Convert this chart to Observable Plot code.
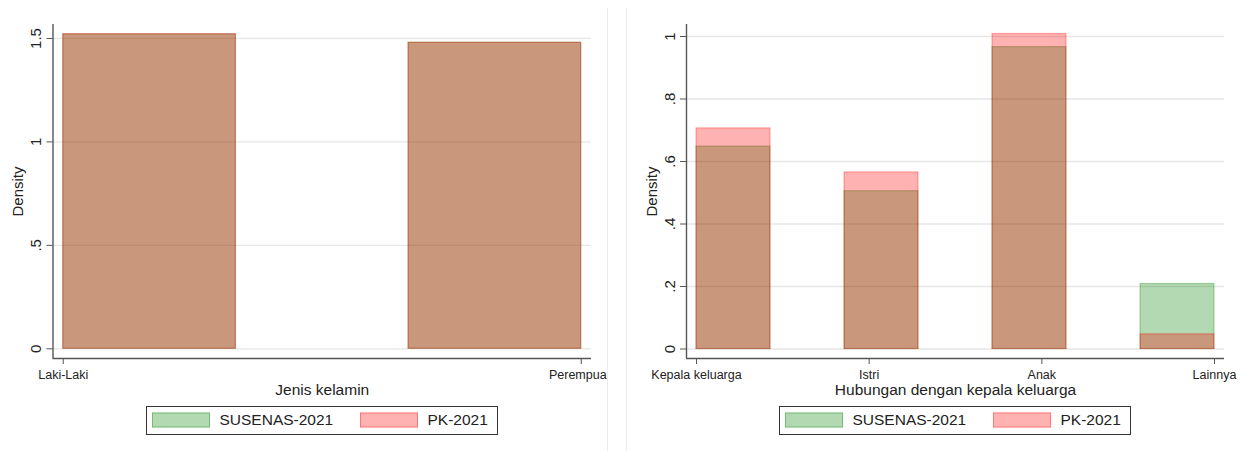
<!DOCTYPE html>
<html>
<head>
<meta charset="utf-8">
<script src="https://cdn.jsdelivr.net/npm/d3@7"></script>
<script src="https://cdn.jsdelivr.net/npm/@observablehq/plot@0.6"></script>
<style>
  html, body { margin: 0; padding: 0; background: #fff; }
  #root { position: relative; width: 1245px; height: 451px; overflow: hidden; background: #fff; font-family: "Liberation Sans", Arial, sans-serif; }
  .panel { position: absolute; top: 0; height: 451px; }
  .panel svg { display: block; overflow: hidden; }
  .legend { position: absolute; top: 406px; height: 28.5px; width: 352px; box-sizing: border-box; border: 1.5px solid #333; background: #fff; }
  .legend .sw { position: absolute; top: 50%; transform: translateY(-50%); width: 58px; height: 15px; box-sizing: border-box; }
  .legend .lb { position: absolute; top: 50%; transform: translateY(-50%); font-size: 15.5px; color: #222; white-space: nowrap; line-height: 1; }
  .sep { position: absolute; top: 8px; width: 1px; height: 443px; background: #ececec; }
</style>
</head>
<body>
<div id="root"></div>
<script>
// ---------- data ----------
const seriesNames = ["SUSENAS-2021", "PK-2021"];
const seriesColors = ["#008000", "#ff0000"];

const sexCategories = ["Laki-Laki", "Perempuan"];
const sexSusenas = [1.520, 1.480];
const sexPK = [1.521, 1.479];
const sexYTicks = [0, 0.5, 1, 1.5];
const sexYTickLabels = ["0", ".5", "1", "1.5"];
const sexBinCount = 3;

const relCategories = ["Kepala keluarga", "Istri", "Anak", "Lainnya"];
const relSusenas = [0.648, 0.505, 0.966, 0.208];
const relPK = [0.706, 0.565, 1.008, 0.047];
const relYTicks = [0, 0.2, 0.4, 0.6, 0.8, 1];
const relYTickLabels = ["0", ".2", ".4", ".6", ".8", "1"];
const relBinCount = 7;

// Stata-like histogram bins over codes 1..n
function binRows(categories, values, nBins, series) {
  const lo = 1, hi = categories.length, w = (hi - lo) / nBins;
  return categories.map((c, k) => {
    const code = k + 1;
    const i = Math.min(Math.floor((code - lo) / w + 1e-9), nBins - 1);
    return {category: c, series, x1: lo + i * w, x2: lo + (i + 1) * w, density: values[k]};
  });
}

function panel({categories, susenas, pk, nBins, yTicks, yTickLabels, yDomain, xPad, width, marginLeft, marginRight, xTitle}) {
  const n = categories.length;
  const xDomain = [1 - xPad * (n - 1), n + xPad * (n - 1)];
  const greenRows = binRows(categories, susenas, nBins, seriesNames[0]);
  const redRows = binRows(categories, pk, nBins, seriesNames[1]);
  const xTicks = categories.map((c, i) => i + 1);
  const yLabelRows = yTicks.map((v, i) => ({v, label: yTickLabels[i]}));
  return Plot.plot({
    width, height: 402,
    marginLeft, marginRight, marginTop: 24, marginBottom: 44,
    x: {domain: xDomain},
    y: {domain: yDomain},
    style: {fontFamily: '"Liberation Sans", Arial, sans-serif', background: "white", overflow: "hidden", color: "#222"},
    marks: [
      Plot.gridY(yTicks, {stroke: "#e6e6e6", strokeOpacity: 1, strokeWidth: 1.3}),
      Plot.rect(greenRows, {x1: "x1", x2: "x2", y1: d => 0, y2: "density", fill: seriesColors[0], fillOpacity: 0.3, stroke: seriesColors[0], strokeOpacity: 0.3, strokeWidth: 1.2}),
      Plot.rect(redRows, {x1: "x1", x2: "x2", y1: d => 0, y2: "density", fill: seriesColors[1], fillOpacity: 0.3, stroke: seriesColors[1], strokeOpacity: 0.3, strokeWidth: 1.2}),
      Plot.ruleX([xDomain[0]], {stroke: "#555", strokeWidth: 1.4}),
      Plot.ruleY([yDomain[0]], {stroke: "#555", strokeWidth: 1.4}),
      Plot.axisY(yTicks, {anchor: "left", tickSize: 6, stroke: "#555", label: null, tickFormat: () => ""}),
      Plot.text(yLabelRows, {y: "v", text: "label", frameAnchor: "left", rotate: -90, dx: -16.5, fontSize: 15, fill: "#222", textAnchor: "middle", lineAnchor: "middle"}),
      Plot.axisX(xTicks, {anchor: "bottom", tickSize: 6, tickPadding: 6, fontSize: 12.5, stroke: "#555", fill: "#222", label: null,
        tickFormat: v => categories[v - 1]}),
      Plot.text([xTitle], {frameAnchor: "bottom", dy: 31.5, fontSize: 15.5, fill: "#222", lineAnchor: "middle"}),
      Plot.text(["Density"], {frameAnchor: "left", rotate: -90, dx: -34.5, fontSize: 15, fill: "#222", textAnchor: "middle", lineAnchor: "middle"})
    ]
  });
}

function legend(left) {
  const box = document.createElement("div");
  box.className = "legend";
  box.style.left = left + "px";
  const parts = [
    {cls: "sw", left: 5, color: seriesColors[0]},
    {cls: "lb", left: 72.5, text: seriesNames[0]},
    {cls: "sw", left: 212.5, color: seriesColors[1]},
    {cls: "lb", left: 280.5, text: seriesNames[1]}
  ];
  for (const p of parts) {
    const el = document.createElement("div");
    el.className = p.cls;
    el.style.left = p.left + "px";
    if (p.cls === "sw") {
      const rgb = d3.rgb(p.color);
      el.style.background = `rgba(${rgb.r},${rgb.g},${rgb.b},0.3)`;
      el.style.border = `1.2px solid rgba(${rgb.r},${rgb.g},${rgb.b},0.35)`;
    } else {
      el.textContent = p.text;
    }
    box.appendChild(el);
  }
  return box;
}

const root = document.getElementById("root");

const left = document.createElement("div");
left.className = "panel";
left.style.left = "0px";
left.style.width = "607px";
left.appendChild(panel({
  categories: sexCategories, susenas: sexSusenas, pk: sexPK, nBins: sexBinCount,
  yTicks: sexYTicks, yTickLabels: sexYTickLabels, yDomain: [-0.0469, 1.5675], xPad: 0.0198,
  width: 607, marginLeft: 52.5, marginRight: 16, xTitle: "Jenis kelamin"
}));
left.appendChild(legend(146));
root.appendChild(left);

const right = document.createElement("div");
right.className = "panel";
right.style.left = "626px";
right.style.width = "619px";
right.appendChild(panel({
  categories: relCategories, susenas: relSusenas, pk: relPK, nBins: relBinCount,
  yTicks: relYTicks, yTickLabels: relYTickLabels, yDomain: [-0.0304, 1.0384], xPad: 0.0193,
  width: 619, marginLeft: 60, marginRight: 21, xTitle: "Hubungan dengan kepala keluarga"
}));
right.appendChild(legend(153));
root.appendChild(right);

for (const x of [606.5, 625.5]) {
  const s = document.createElement("div");
  s.className = "sep";
  s.style.left = x + "px";
  root.appendChild(s);
}
</script>
</body>
</html>
